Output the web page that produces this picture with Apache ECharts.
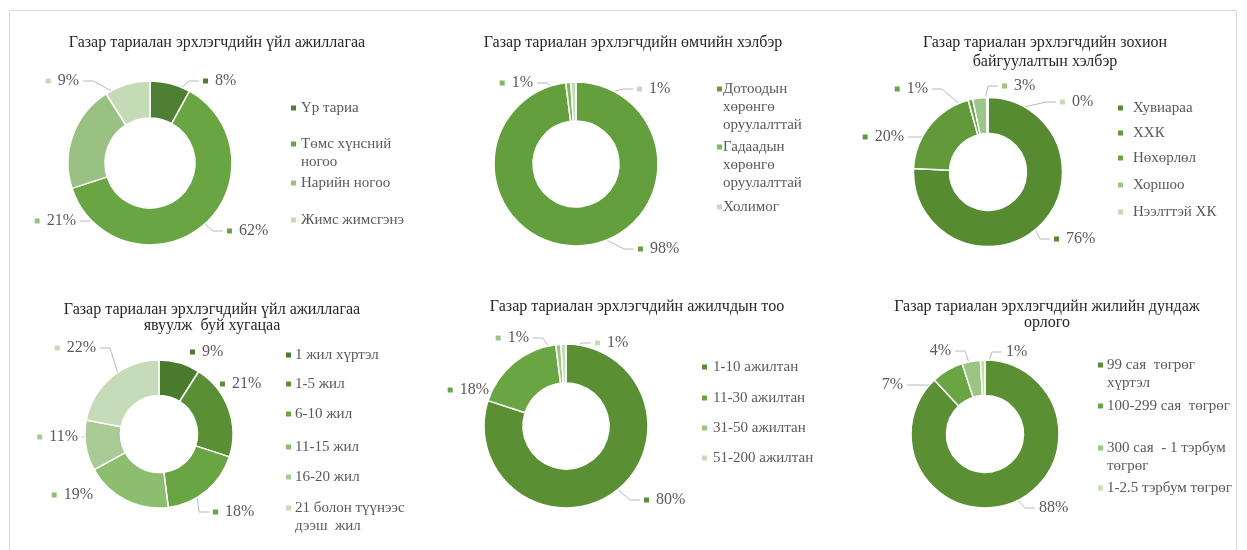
<!DOCTYPE html>
<html>
<head>
<meta charset="utf-8">
<script src="https://cdn.jsdelivr.net/npm/echarts@6/dist/echarts.min.js"></script>
<style>
  html, body { margin: 0; padding: 0; background: #fff; }
  #chart { width: 1247px; height: 550px; }
</style>
</head>
<body>
<div id="chart"></div>
<script>
// ---------- DATA ----------
const p1Title = 'Газар тариалан эрхлэгчдийн үйл ажиллагаа';
const p1Cats = ['Үр тариа', 'Төмс хүнсний ногоо', 'Нарийн ногоо', 'Жимс жимсгэнэ'];
const p1Legend = ['Үр тариа', 'Төмс хүнсний\nногоо', 'Нарийн ногоо', 'Жимс жимсгэнэ'];
const p1Vals = [8, 62, 21, 9];

const p2Title = 'Газар тариалан эрхлэгчдийн өмчийн хэлбэр';
const p2Cats = ['Дотоодын хөрөнгө оруулалттай', 'Гадаадын хөрөнгө оруулалттай', 'Холимог'];
const p2Legend = ['Дотоодын\nхөрөнгө\nоруулалттай', 'Гадаадын\nхөрөнгө\nоруулалттай', 'Холимог'];
const p2Vals = [98, 1, 1];

const p3Title = 'Газар тариалан эрхлэгчдийн зохион\nбайгуулалтын хэлбэр';
const p3Cats = ['Хувиараа', 'ХХК', 'Нөхөрлөл', 'Хоршоо', 'Нээлттэй ХК'];
const p3Legend = ['Хувиараа', 'ХХК', 'Нөхөрлөл', 'Хоршоо', 'Нээлттэй ХК'];
const p3Vals = [76, 20, 1, 3, 0.3];

const p4Title = 'Газар тариалан эрхлэгчдийн үйл ажиллагаа\nявуулж  буй хугацаа';
const p4Cats = ['1 жил хүртэл', '1-5 жил', '6-10 жил', '11-15 жил', '16-20 жил', '21 болон түүнээс дээш жил'];
const p4Legend = ['1 жил хүртэл', '1-5 жил', '6-10 жил', '11-15 жил', '16-20 жил', '21 болон түүнээс\nдээш  жил'];
const p4Vals = [9, 21, 18, 19, 11, 22];

const p5Title = 'Газар тариалан эрхлэгчдийн ажилчдын тоо';
const p5Cats = ['1-10 ажилтан', '11-30 ажилтан', '31-50 ажилтан', '51-200 ажилтан'];
const p5Legend = ['1-10 ажилтан', '11-30 ажилтан', '31-50 ажилтан', '51-200 ажилтан'];
const p5Vals = [80, 18, 1, 1];

const p6Title = 'Газар тариалан эрхлэгчдийн жилийн дундаж\nорлого';
const p6Cats = ['99 сая төгрөг хүртэл', '100-299 сая төгрөг', '300 сая - 1 тэрбум төгрөг', '1-2.5 тэрбум төгрөг'];
const p6Legend = ['99 сая  төгрөг\nхүртэл', '100-299 сая  төгрөг', '300 сая  - 1 тэрбум\nтөгрөг', '1-2.5 тэрбум төгрөг'];
const p6Vals = [88, 7, 4, 1];

// ---------- LAYOUT / STYLE ----------
const FONT = '"Liberation Serif", "DejaVu Serif", serif';
const TEXT = '#595959';
const LH = 18;

// labelPos: anchor of each data label — left edge for labels right of the centre,
// right edge for labels left of the centre; second value = vertical centre.
const panels = [
  { title: p1Title, cats: p1Cats, legend: p1Legend, vals: p1Vals,
    colors: ['#4f7f33', '#6aa544', '#98c182', '#c5dbb5'],
    titleX: 217, titleY: 43, titleLH: 18, center: [150, 163], radius: [45, 82],
    legX: 290, legGap: 5, legTops: [108, 144, 183, 220], marker: true,
    labelPos: [[203, 81], [227, 231], [76, 221], [79, 81]],
    showLine: [true, true, true, true] },
  { title: p2Title, cats: p2Cats, legend: p2Legend, vals: p2Vals,
    colors: ['#63a03d', '#7db85b', '#c5dbb5'],
    titleX: 633, titleY: 43, titleLH: 18, center: [576, 164], radius: [43, 82],
    legX: 716, legGap: 1, legTops: [89, 147, 207], marker: true,
    labelPos: [[638, 249], [533, 83], [637, 89]],
    showLine: [true, true, true] },
  { title: p3Title, cats: p3Cats, legend: p3Legend, vals: p3Vals,
    colors: ['#578b31', '#62993b', '#6aa544', '#9dc585', '#c5dbb5'],
    titleX: 1045, titleY: 43, titleLH: 19, center: [988, 172], radius: [38.5, 74.5],
    legX: 1117, legGap: 10, legTops: [108, 133, 158, 185, 212], marker: true,
    labelPos: [[1054, 239], [904, 137], [928, 89], [1002, 86], [1060, 102]],
    showLine: [true, true, true, true, true] },
  { title: p4Title, cats: p4Cats, legend: p4Legend, vals: p4Vals,
    colors: ['#4a7a2e', '#5a8f36', '#6aa544', '#8dbd6e', '#a8ca95', '#c6dbb8'],
    titleX: 212, titleY: 310, titleLH: 16, center: [159, 434], radius: [38.5, 74],
    legX: 285, legGap: 4, legTops: [355, 384, 414, 447, 477, 508], marker: true,
    labelPos: [[190, 352], [220, 384], [213, 512], [93, 495], [78, 437], [96, 348]],
    showLine: [false, false, true, false, true, true] },
  { title: p5Title, cats: p5Cats, legend: p5Legend, vals: p5Vals,
    colors: ['#5a8f34', '#6aa544', '#9cc583', '#c5dcb5'],
    titleX: 637, titleY: 307, titleLH: 18, center: [566, 426], radius: [43, 82],
    legX: 701, legGap: 6, legTops: [367, 398, 428, 458], marker: true,
    labelPos: [[644, 500], [489, 390], [529, 338], [595, 343]],
    showLine: [true, false, true, true] },
  { title: p6Title, cats: p6Cats, legend: p6Legend, vals: p6Vals,
    colors: ['#5a8f34', '#6aa544', '#9cc583', '#c5dcb5'],
    titleX: 1047, titleY: 307, titleLH: 16, center: [985, 434], radius: [38.5, 74],
    legX: 1097, legGap: 4, legTops: [365, 406, 448, 488], marker: false,
    labelPos: [[1039, 508], [903, 385], [951, 351], [1006, 352]],
    showLine: [true, true, true, true] }
];

const titles = panels.map(p => ({
  text: p.title,
  left: p.titleX,
  top: p.titleY - p.titleLH / 2,
  textAlign: 'center',
  padding: 0,
  textStyle: { fontFamily: FONT, fontSize: 16, fontWeight: 'normal', color: '#262626', lineHeight: p.titleLH }
}));

const legends = [];
panels.forEach(p => {
  p.cats.forEach((c, i) => {
    const lines = p.legend[i].split('\n');
    const rich = {
      m: { width: 5, height: 5, backgroundColor: p.colors[i] },
      g: { width: p.legGap },
      ind: { width: 5 + p.legGap },
      t: { fontFamily: FONT, fontSize: 15, color: TEXT, lineHeight: LH }
    };
    legends.push({
      data: [c],
      left: p.legX - 5,
      top: p.legTops[i] - LH / 2,
      orient: 'vertical',
      padding: 0,
      itemWidth: 0,
      itemHeight: 0,
      selectedMode: false,
      formatter: () => lines.map((l, k) => (k === 0 ? '{m|}{g|}' : '{ind|}') + '{t|' + l + '}').join('\n'),
      textStyle: { fontFamily: FONT, fontSize: 15, color: TEXT, lineHeight: LH, rich: rich }
    });
  });
});

const series = panels.map(p => {
  const rich = { g: { width: 7 }, v: { fontFamily: FONT, fontSize: 16, color: TEXT } };
  p.colors.forEach((col, i) => { rich['m' + i] = { width: 5, height: 5, backgroundColor: col }; });
  const total = p.vals.reduce((a, b) => a + b, 0);
  const midR = (p.radius[0] + p.radius[1]) / 2;
  return {
    type: 'pie',
    center: p.center,
    radius: p.radius,
    startAngle: 90,
    clockwise: true,
    avoidLabelOverlap: false,
    itemStyle: { borderColor: '#fff', borderWidth: 1.5 },
    label: {
      show: true,
      position: 'outside',
      width: 70,
      formatter: (prm) => (p.marker ? '{m' + prm.dataIndex + '|}{g|}' : '') + '{v|' + Math.round(prm.value) + '%}',
      rich: rich
    },
    labelLine: { show: true, showAbove: true, length: 8, length2: 18, lineStyle: { color: '#a6a6a6', width: 0.8 } },
    labelLayout: (prm) => {
      const i = prm.dataIndex;
      let before = 0;
      for (let k = 0; k < i; k++) before += p.vals[k];
      const ang = (before + p.vals[i] / 2) / total * Math.PI * 2;
      const sx = p.center[0] + midR * Math.sin(ang);
      const sy = p.center[1] - midR * Math.cos(ang);
      const lx = p.labelPos[i][0], ly = p.labelPos[i][1];
      const rightSide = lx > p.center[0];
      let pts;
      if (rightSide) {
        const ex = lx - 4;
        const bx = Math.max(Math.min(sx, ex), ex - 10);
        pts = [[sx, sy], [bx, ly], [ex, ly]];
      } else {
        const ex = lx + 4;
        const bx = Math.min(Math.max(sx, ex), ex + 10);
        pts = [[sx, sy], [bx, ly], [ex, ly]];
      }
      if (!p.showLine[i]) pts = [[lx, ly], [lx, ly], [lx, ly]];
      return {
        x: lx,
        y: ly,
        align: rightSide ? 'left' : 'right',
        verticalAlign: 'middle',
        labelLinePoints: pts
      };
    },
    emphasis: { disabled: true },
    data: p.cats.map((c, i) => ({ name: c, value: p.vals[i], itemStyle: { color: p.colors[i] } }))
  };
});

const chart = echarts.init(document.getElementById('chart'), null, { renderer: 'canvas' });
chart.setOption({
  animation: false,
  backgroundColor: '#fff',
  title: titles,
  legend: legends,
  graphic: [{
    type: 'rect',
    shape: { x: 9.5, y: 10.5, width: 1227, height: 560 },
    style: { fill: 'none', stroke: '#d9d9d9', lineWidth: 1 },
    silent: true
  }],
  series: series
});
</script>
</body>
</html>
